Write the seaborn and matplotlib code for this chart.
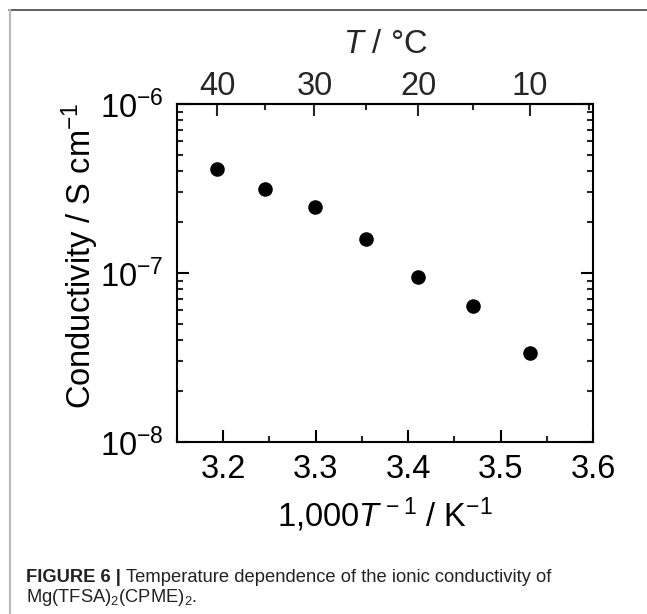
import numpy as np
import pandas as pd
import matplotlib
matplotlib.use("Agg")
import matplotlib.pyplot as plt
import seaborn as sns
from matplotlib import font_manager
from matplotlib.ticker import FixedLocator, LogLocator, NullFormatter, FixedFormatter, MultipleLocator
from matplotlib.lines import Line2D

# ---- data ----
temps_c = [40, 35, 30, 25, 20, 15, 10]
inv_T = [3.193, 3.245, 3.299, 3.354, 3.411, 3.470, 3.532]
conductivity = [4.12e-7, 3.14e-7, 2.45e-7, 1.60e-7, 9.5e-8, 6.4e-8, 3.38e-8]
x_ticks = [3.2, 3.3, 3.4, 3.5, 3.6]
top_major = [40, 30, 20, 10]
top_minor = [35, 25, 15, 5]
y_ticks = [1e-8, 1e-7, 1e-6]
y_ticklabels = ["$10^{-8}$", "$10^{-7}$", "$10^{-6}$"]

df = pd.DataFrame({"invT": inv_T, "sigma": conductivity})

sns.set_theme(style="ticks")
plt.rcParams["font.family"] = ["Liberation Sans", "DejaVu Sans"]
plt.rcParams["mathtext.fontset"] = "custom"
plt.rcParams["mathtext.rm"] = "Liberation Sans"
plt.rcParams["mathtext.it"] = "Liberation Sans:italic"
plt.rcParams["mathtext.bf"] = "Liberation Sans:bold"

names = {f.name for f in font_manager.fontManager.ttflist}
cap_font = "Liberation Sans Narrow" if "Liberation Sans Narrow" in names else "Liberation Sans"

W, H = 647, 614
fig = plt.figure(figsize=(W / 100, H / 100), dpi=100)
ax = fig.add_axes([177 / W, 1 - 442 / H, 416 / W, 338 / H])

sns.scatterplot(data=df, x="invT", y="sigma", ax=ax, color="black", s=110,
                edgecolor="black", linewidth=0, legend=False, zorder=3)

ax.set_yscale("log")
ax.set_xlim(3.15, 3.6)
ax.set_ylim(1e-8, 1e-6)

lw = 1.5
FS = 23.5
for sp in ax.spines.values():
    sp.set_linewidth(lw)
    sp.set_color("black")

ax.xaxis.set_major_locator(FixedLocator(x_ticks))
ax.xaxis.set_minor_locator(MultipleLocator(0.05))
ax.set_xticklabels([f"{v:.1f}" for v in x_ticks])
ax.yaxis.set_major_locator(FixedLocator(y_ticks))
ax.yaxis.set_major_formatter(FixedFormatter(y_ticklabels))
ax.yaxis.set_minor_locator(LogLocator(base=10, subs=np.arange(2, 10)))
ax.yaxis.set_minor_formatter(NullFormatter())

ax.tick_params(which="major", direction="in", length=8.5, width=lw, labelsize=FS,
               colors="black", right=True, top=False)
ax.tick_params(which="minor", direction="in", length=4.5, width=lw, right=True, top=False)
ax.tick_params(axis="x", which="major", pad=8.5)
ax.tick_params(axis="y", which="major", pad=9.5)

ax.set_xlabel("1,000$\\mathit{T}$$^{\\,-1}$ / K$^{-1}$", fontsize=FS, labelpad=8, color="black")
ax.set_ylabel("Conductivity / S cm$^{-1}$", fontsize=FS, color="black")
ax.yaxis.set_label_coords(-0.1835, 0.55)

# top axis in °C
def to_c(x):
    x = np.asarray(x, dtype=float)
    with np.errstate(divide="ignore"):
        return 1000.0 / x - 273.15

def to_inv(t):
    t = np.asarray(t, dtype=float)
    with np.errstate(divide="ignore"):
        return 1000.0 / (t + 273.15)

sec = ax.secondary_xaxis("top", functions=(to_c, to_inv))
sec.xaxis.set_major_locator(FixedLocator(top_major))
sec.xaxis.set_minor_locator(FixedLocator(top_minor))
sec.set_xticklabels([str(v) for v in top_major])
sec.tick_params(which="major", direction="in", length=8.5, width=lw, labelsize=FS, pad=1.5)
sec.tick_params(which="minor", direction="in", length=4.5, width=lw)
sec.spines["top"].set_linewidth(lw)
sec.set_xlabel("$\\mathit{T}$ / °C", fontsize=FS, labelpad=13)

# caption
renderer = fig.canvas.get_renderer()
CFS = 13.2
y1 = 1 - 578 / H
y2 = 1 - 597 / H
t1 = fig.text(26 / W, y1, "FIGURE 6 | ", fontsize=CFS, fontweight="bold",
              family=cap_font, color="#222222", va="center")
bb = t1.get_window_extent(renderer)
fig.text(bb.x1 / fig.bbox.width, y1, "Temperature dependence of the ionic conductivity of",
         fontsize=CFS, family=cap_font, color="#222222", va="center")
fig.text(26 / W, y2, "Mg(TFSA)$_2$(CPME)$_2$.", fontsize=CFS, family=cap_font,
         color="#222222", va="center")

# frame lines
fig.add_artist(Line2D([9 / W, 1.0], [1 - 10 / H, 1 - 10 / H], transform=fig.transFigure,
                      color="#555555", linewidth=1.3))
fig.add_artist(Line2D([9.5 / W, 9.5 / W], [0.0, 1 - 10 / H], transform=fig.transFigure,
                      color="#bbbbbb", linewidth=1.6))

fig.savefig("out.png", dpi=100)
